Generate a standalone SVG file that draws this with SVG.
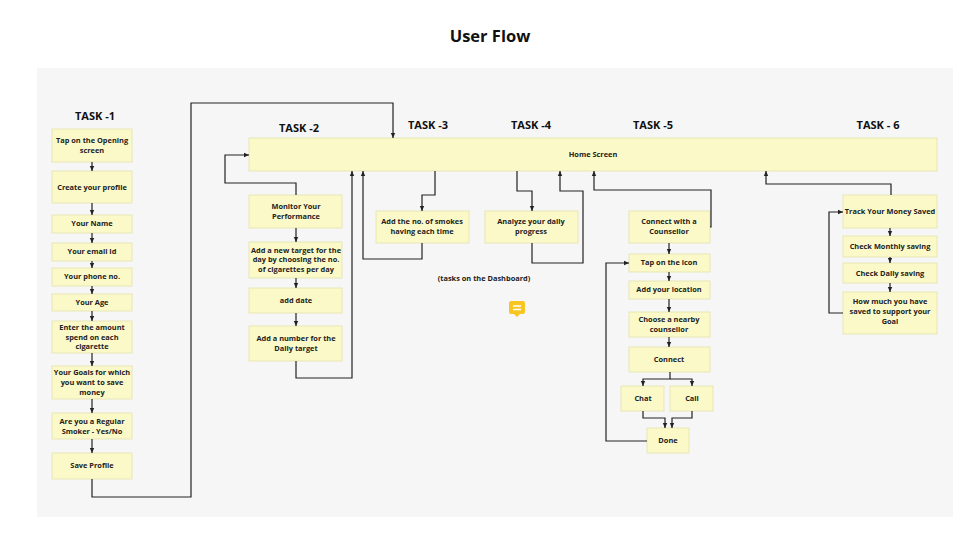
<svg xmlns="http://www.w3.org/2000/svg" width="980" height="551" viewBox="0 0 980 551">
<defs>
<style>
.b{fill:#fcf9c8;stroke:#e8e5b5;stroke-width:1}
.t{font-family:"Open Sans","Noto Sans",sans-serif;font-weight:700;font-size:7.4px;fill:#222;text-anchor:middle}
.h{font-family:"Open Sans","Noto Sans",sans-serif;font-weight:700;font-size:11px;fill:#111;text-anchor:middle}
.c path{fill:none;stroke:#222;stroke-width:1.2;marker-end:url(#a)}
</style>
<marker id="a" markerWidth="6" markerHeight="6" refX="5" refY="3" orient="auto" markerUnits="userSpaceOnUse"><path d="M0,0.8L5,3L0,5.2z" fill="#222"/></marker>
</defs>
<rect width="980" height="551" fill="#fff"/>
<rect x="37" y="68" width="916" height="449" fill="#f6f6f6"/>
<text x="490" y="42" font-family="Open Sans,Noto Sans,sans-serif" font-weight="700" font-size="16.5" text-anchor="middle" fill="#111">User Flow</text>
<g id="titles">
<text class="h" x="95" y="120">TASK -1</text>
<text class="h" x="299" y="132">TASK -2</text>
<text class="h" x="428" y="129">TASK -3</text>
<text class="h" x="531" y="129">TASK -4</text>
<text class="h" x="653" y="129">TASK -5</text>
<text class="h" x="878" y="129">TASK - 6</text>
<text class="t" x="484" y="281" font-size="6.5">(tasks on the Dashboard)</text>
</g>
<g id="icon"><rect x="509" y="301" width="16" height="13" rx="2" fill="#f7c623"/><path d="M514,314L517,317L520,314z" fill="#f7c623"/><path d="M513,306h8M513,309.5h8" stroke="#fff" stroke-width="1.3"/></g>
<g id="home"><rect class="b" x="249" y="138" width="688" height="33"/><text class="t" x="593" y="157">Home Screen</text></g>
<g id="t1">
<g id="n1"><rect class="b" x="52" y="129" width="80" height="33"/><text class="t" x="92" y="143">Tap on the Opening</text><text class="t" x="92" y="153">screen</text></g>
<g id="n2"><rect class="b" x="52" y="171" width="80" height="32"/><text class="t" x="92" y="190">Create your profile</text></g>
<g id="n3"><rect class="b" x="52" y="215" width="80" height="18"/><text class="t" x="92" y="226">Your Name</text></g>
<g id="n4"><rect class="b" x="52" y="243" width="80" height="18"/><text class="t" x="92" y="254">Your email Id</text></g>
<g id="n5"><rect class="b" x="52" y="268" width="80" height="18"/><text class="t" x="92" y="279">Your phone no.</text></g>
<g id="n6"><rect class="b" x="52" y="294" width="80" height="17"/><text class="t" x="92" y="305">Your Age</text></g>
<g id="n7"><rect class="b" x="52" y="321" width="80" height="32"/><text class="t" x="92" y="330">Enter the amount</text><text class="t" x="92" y="340">spend on each</text><text class="t" x="92" y="349">cigarette</text></g>
<g id="n8"><rect class="b" x="52" y="366" width="80" height="33"/><text class="t" x="92" y="375">Your Goals for which</text><text class="t" x="92" y="385">you want to save</text><text class="t" x="92" y="395">money</text></g>
<g id="n9"><rect class="b" x="52" y="413" width="80" height="26"/><text class="t" x="92" y="424">Are you a Regular</text><text class="t" x="92" y="434">Smoker - Yes/No</text></g>
<g id="n10"><rect class="b" x="52" y="453" width="80" height="26"/><text class="t" x="92" y="468">Save Profile</text></g>
</g>
<g id="t2">
<g id="m1"><rect class="b" x="249" y="195" width="93" height="33"/><text class="t" x="296" y="209">Monitor Your</text><text class="t" x="296" y="219">Performance</text></g>
<g id="m2"><rect class="b" x="249" y="242" width="93" height="36"/><text class="t" x="296" y="253">Add a new target for the</text><text class="t" x="296" y="262">day by choosing the no.</text><text class="t" x="296" y="272">of cigarettes per day</text></g>
<g id="m3"><rect class="b" x="249" y="288" width="93" height="25"/><text class="t" x="296" y="303">add date</text></g>
<g id="m4"><rect class="b" x="249" y="326" width="93" height="35"/><text class="t" x="296" y="341">Add a number for the</text><text class="t" x="296" y="351">Daily target</text></g>
</g>
<g id="t3"><rect class="b" x="376" y="211" width="93" height="32"/><text class="t" x="422" y="224">Add the no. of smokes</text><text class="t" x="422" y="234">having each time</text></g>
<g id="t4"><rect class="b" x="485" y="211" width="93" height="32"/><text class="t" x="531" y="224">Analyze your daily</text><text class="t" x="531" y="234">progress</text></g>
<g id="t5">
<g id="p1"><rect class="b" x="629" y="211" width="81" height="32"/><text class="t" x="669" y="224">Connect with a</text><text class="t" x="669" y="234">Counsellor</text></g>
<g id="p2"><rect class="b" x="629" y="254" width="81" height="18"/><text class="t" x="669" y="265">Tap on the icon</text></g>
<g id="p3"><rect class="b" x="629" y="281" width="81" height="18"/><text class="t" x="669" y="292">Add your location</text></g>
<g id="p4"><rect class="b" x="629" y="312" width="81" height="25"/><text class="t" x="669" y="322">Choose a nearby</text><text class="t" x="669" y="332">counsellor</text></g>
<g id="p5"><rect class="b" x="629" y="347" width="81" height="25"/><text class="t" x="669" y="362">Connect</text></g>
<g id="p6"><rect class="b" x="621" y="386" width="43" height="25"/><text class="t" x="643" y="401">Chat</text></g>
<g id="p7"><rect class="b" x="670" y="386" width="43" height="25"/><text class="t" x="692" y="401">Call</text></g>
<g id="p8"><rect class="b" x="647" y="428" width="42" height="25"/><text class="t" x="668" y="443">Done</text></g>
</g>
<g id="t6">
<g id="q1"><rect class="b" x="843" y="195" width="94" height="33"/><text class="t" x="890" y="214" font-size="7">Track Your Money Saved</text></g>
<g id="q2"><rect class="b" x="843" y="236" width="94" height="21"/><text class="t" x="890" y="249">Check Monthly saving</text></g>
<g id="q3"><rect class="b" x="843" y="263" width="94" height="20"/><text class="t" x="890" y="276">Check Daily saving</text></g>
<g id="q4"><rect class="b" x="843" y="292" width="94" height="42"/><text class="t" x="890" y="304">How much you have</text><text class="t" x="890" y="314">saved to support your</text><text class="t" x="890" y="324">Goal</text></g>
</g>
<g id="connectors" class="c">
<path d="M92,162V171"/><path d="M92,203V215"/><path d="M92,233V243"/><path d="M92,261V268"/><path d="M92,286V294"/><path d="M92,311V321"/><path d="M92,353V366"/><path d="M92,399V413"/><path d="M92,439V453"/>
<path d="M92,479V497H191V103H393V138"/>
<path d="M296,195V183H225V155H249"/>
<path d="M296,228V242"/><path d="M296,278V288"/><path d="M296,313V326"/>
<path d="M296,361V378H352V171"/>
<path d="M435,171V195H422V211"/>
<path d="M422,243V259H363V171"/>
<path d="M517,171V191H532V211"/>
<path d="M532,243V263H583V191H560V171"/>
<path d="M710,227H711V190H594V171"/>
<path d="M669,243V254"/><path d="M669,272V281"/><path d="M669,299V312"/><path d="M669,337V347"/>
<path d="M670,372V379H643V386"/><path d="M670,379H692V386"/>
<path d="M643,411V418H665V428"/><path d="M692,411V418H672V428"/>
<path d="M647,441H606V263H629"/>
<path d="M891,195V184H766V171"/>
<path d="M890,228V236"/><path d="M890,257V263"/><path d="M890,283V292"/>
<path d="M843,313H829V212H843"/>
</g>
</svg>
